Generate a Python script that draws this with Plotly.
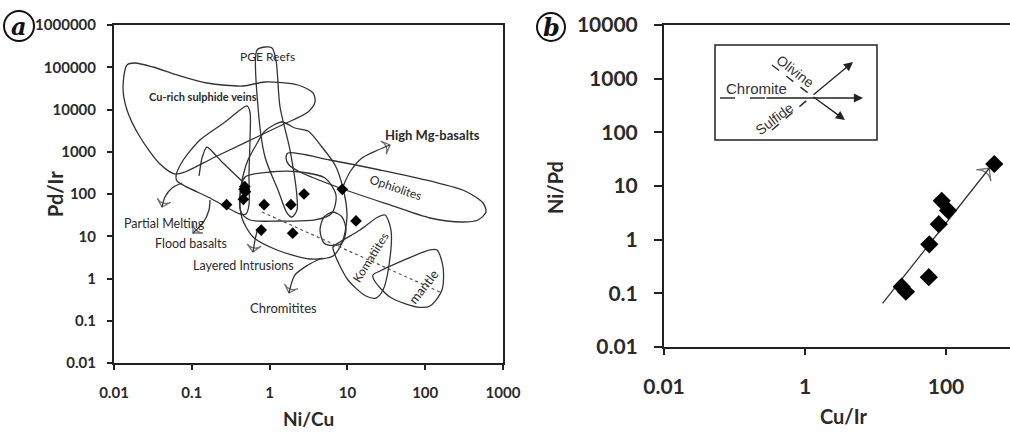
import numpy as np
import plotly.graph_objects as go

W, H = 1010, 432

# ---------------- Panel a: Ni/Cu vs Pd/Ir ----------------
a_ni_cu = [0.28, 0.48, 0.47, 0.49, 0.46, 0.85, 1.88, 2.77, 0.78, 1.98, 8.6, 12.9]
a_pd_ir = [56, 149, 130, 113, 75, 56, 56, 100, 14, 11.8, 129, 23]

a_x_ticks = [0.01, 0.1, 1, 10, 100, 1000]
a_x_ticklabels = ["0.01", "0.1", "1", "10", "100", "1000"]
a_y_ticks = [0.01, 0.1, 1, 10, 100, 1000, 10000, 100000, 1000000]
a_y_ticklabels = ["0.01", "0.1", "1", "10", "100", "1000", "10000", "100000", "1000000"]

# field outlines as log10(Ni/Cu), log10(Pd/Ir)
cu_veins_lx = [-1.833, -1.730, -1.499, -1.190, -0.805, -0.342, -0.059, 0.365, 0.558, 0.584, 0.494, 0.159, -0.702, -1.087, -1.216, -1.409, -1.666, -1.833, -1.884, -1.833]
cu_veins_ly = [5.053, 5.101, 5.006, 4.817, 4.627, 4.556, 4.651, 4.580, 4.391, 4.178, 3.941, 3.633, 2.876, 2.521, 2.473, 2.710, 3.349, 3.988, 4.533, 5.053]

pge_lx = [-0.162, -0.149, -0.059, 0.108, 0.224, 0.288, 0.352, 0.352, 0.262, 0.134, 0.082, 0.031, -0.059, -0.162]
pge_ly = [5.408, 4.059, 2.876, 2.095, 1.550, 1.456, 1.621, 1.929, 3.041, 4.059, 5.172, 5.456, 5.479, 5.408]

spike_lx = [-0.291, -0.252, -0.252, -0.265, -0.265, -0.303, -0.380, -0.766, -1.190, -1.203, -1.126, -0.895, -0.573, -0.380, -0.291]
spike_ly = [4.083, 3.941, 3.278, 2.450, 1.740, 1.527, 1.527, 1.905, 2.308, 2.426, 2.757, 3.278, 3.704, 3.988, 4.083]

tip_lx = [-0.907, -0.869, -0.805, -0.612, -0.316]
tip_ly = [2.426, 2.852, 3.112, 2.757, 2.237]

flood_lx = [-0.380, -0.316, 0.005, 0.391, 0.712, 0.853, 0.802, 0.584, 0.134, -0.252, -0.368, -0.380]
flood_ly = [1.976, 2.402, 2.521, 2.521, 2.379, 1.976, 1.550, 1.385, 1.361, 1.385, 1.574, 1.976]

highmg_lx = [-0.278, -0.188, -0.059, 0.159, 0.326, 0.494, 0.673, 0.841, 0.943, 0.995, 0.943, 0.815, 0.519, 0.095, -0.213, -0.355, -0.380, -0.329, -0.278]
highmg_ly = [2.805, 3.112, 3.491, 3.704, 3.562, 3.491, 3.112, 2.686, 2.142, 1.503, 0.911, 0.533, 0.462, 0.675, 0.982, 1.432, 1.976, 2.521, 2.805]

ophiolite_lx = [0.237, 0.776, 1.419, 2.062, 2.512, 2.743, 2.781, 2.679, 2.473, 2.062, 1.548, 0.905, 0.391, 0.249, 0.211, 0.237]
ophiolite_ly = [2.970, 2.805, 2.568, 2.308, 2.071, 1.787, 1.574, 1.385, 1.337, 1.432, 1.740, 2.142, 2.521, 2.686, 2.852, 2.970]

chromitite_lx = [0.982, 0.931, 0.815, 0.699, 0.648, 0.699, 0.815, 0.931, 0.982]
chromitite_ly = [1.148, 0.840, 0.781, 0.840, 1.148, 1.456, 1.574, 1.456, 1.148]

komatiite_lx = [1.483, 1.560, 1.535, 1.458, 1.368, 1.239, 1.008, 0.841, 0.815, 0.905, 1.162, 1.393, 1.483]
komatiite_ly = [1.503, 1.148, 0.320, -0.272, -0.462, -0.414, -0.036, 0.556, 0.746, 0.864, 1.148, 1.456, 1.503]

mantle_lx = [2.152, 2.229, 2.216, 2.062, 1.895, 1.548, 1.342, 1.329, 1.419, 2.062, 2.152]
mantle_ly = [0.675, 0.272, -0.272, -0.651, -0.675, -0.438, -0.036, 0.083, 0.178, 0.675, 0.675]

trend_lx = [-0.098, 2.190]
trend_ly = [1.574, -0.320]

# label arrows (log10 values)
arrow_melting_lx = [-1.126, -1.254, -1.345, -1.383]
arrow_melting_ly = [2.260, 2.142, 1.929, 1.692]
arrow_flood_lx = [-0.766, -0.779, -0.856, -0.985]
arrow_flood_ly = [1.858, 1.621, 1.314, 1.077]
arrow_layered_lx = [-0.149, -0.188, -0.213]
arrow_layered_ly = [1.195, 0.911, 0.627]
arrow_chrom_lx = [0.673, 0.494, 0.326, 0.249]
arrow_chrom_ly = [0.485, 0.320, 0.083, -0.343]
arrow_highmg_lx = [0.931, 1.033, 1.188, 1.393, 1.548]
arrow_highmg_ly = [2.118, 2.521, 2.852, 3.041, 3.160]

# ---------------- Panel b: Cu/Ir vs Ni/Pd ----------------
b_cu_ir = [484, 87, 107, 79, 58, 57, 23.5, 27]
b_ni_pd = [25.7, 5.3, 3.5, 1.94, 0.82, 0.2, 0.133, 0.107]
b_trend_cu_ir = [12.6, 411]
b_trend_ni_pd = [0.065, 21.4]

b_x_ticks = [0.01, 1, 100]
b_x_ticklabels = ["0.01", "1", "100"]
b_y_ticks = [0.01, 0.1, 1, 10, 100, 1000, 10000]
b_y_ticklabels = ["0.01", "0.1", "1", "10", "100", "1000", "10000"]

LINE = "#333333"
TXT = "#2a2a2a"


def P(px, py):
    return px / W, 1 - py / H


fig = go.Figure()

closed_fields = [
    (cu_veins_lx, cu_veins_ly), (pge_lx, pge_ly), (spike_lx, spike_ly),
    (flood_lx, flood_ly), (highmg_lx, highmg_ly), (ophiolite_lx, ophiolite_ly),
    (chromitite_lx, chromitite_ly), (komatiite_lx, komatiite_ly), (mantle_lx, mantle_ly),
]
for lx, ly in closed_fields:
    fig.add_trace(go.Scatter(x=10 ** np.array(lx), y=10 ** np.array(ly), mode="lines",
                             line=dict(color=LINE, width=1.3, shape="spline", smoothing=0.8),
                             xaxis="x", yaxis="y", hoverinfo="skip"))

fig.add_trace(go.Scatter(x=10 ** np.array(tip_lx), y=10 ** np.array(tip_ly), mode="lines",
                         line=dict(color=LINE, width=1.3, shape="spline", smoothing=0.5),
                         xaxis="x", yaxis="y", hoverinfo="skip"))
fig.add_trace(go.Scatter(x=10 ** np.array(trend_lx), y=10 ** np.array(trend_ly), mode="lines",
                         line=dict(color="#555555", width=1.2, dash="dot"),
                         xaxis="x", yaxis="y", hoverinfo="skip"))

for lx, ly in [(arrow_melting_lx, arrow_melting_ly), (arrow_flood_lx, arrow_flood_ly),
               (arrow_layered_lx, arrow_layered_ly), (arrow_chrom_lx, arrow_chrom_ly),
               (arrow_highmg_lx, arrow_highmg_ly)]:
    n = len(lx)
    fig.add_trace(go.Scatter(x=10 ** np.array(lx), y=10 ** np.array(ly), mode="lines+markers",
                             line=dict(color=LINE, width=1.3, shape="spline", smoothing=0.8),
                             marker=dict(symbol="arrow-wide-open", size=[0] * (n - 1) + [10],
                                         angleref="previous", color=LINE,
                                         line=dict(color=LINE, width=1.3)),
                             xaxis="x", yaxis="y", hoverinfo="skip"))

fig.add_trace(go.Scatter(x=a_ni_cu, y=a_pd_ir, mode="markers",
                         marker=dict(symbol="diamond", size=9, color="black"),
                         xaxis="x", yaxis="y"))

# panel b
fig.add_trace(go.Scatter(x=b_trend_cu_ir, y=b_trend_ni_pd, mode="lines+markers",
                         line=dict(color=LINE, width=1.3),
                         marker=dict(symbol="arrow-wide-open", size=[0, 13], angleref="previous",
                                     color=LINE, line=dict(color=LINE, width=1.3)),
                         xaxis="x2", yaxis="y2", hoverinfo="skip"))
fig.add_trace(go.Scatter(x=b_cu_ir, y=b_ni_pd, mode="markers",
                         marker=dict(symbol="diamond", size=14, color="black"),
                         xaxis="x2", yaxis="y2"))

axis_common = dict(type="log", showgrid=False, zeroline=False, showline=True, automargin=False,
                   linecolor="#222222", ticks="outside", tickcolor="#222222")

fig.update_layout(
    width=W, height=H, margin=dict(l=0, r=0, t=0, b=0, autoexpand=False),
    paper_bgcolor="white", plot_bgcolor="white", showlegend=False,
    xaxis=dict(axis_common, domain=[114 / W, 503 / W], range=[-2, 3], anchor="y",
               mirror=True, linewidth=2, ticklen=5, tickwidth=1.5,
               tickvals=a_x_ticks, ticktext=a_x_ticklabels, ticklabelstandoff=10,
               tickfont=dict(family="Lato", size=15, color=TXT, weight="bold")),
    yaxis=dict(axis_common, domain=[1 - 363 / H, 1 - 25 / H], range=[-2, 6], anchor="x",
               mirror=True, linewidth=2, ticklen=5, tickwidth=1.5,
               tickvals=a_y_ticks, ticktext=a_y_ticklabels, ticklabelstandoff=8,
               tickfont=dict(family="Lato", size=15, color=TXT, weight="bold")),
    xaxis2=dict(axis_common, domain=[664 / W, 1.0], range=[-2, 2.908], anchor="y2",
                mirror=True, linewidth=2, ticklen=6, tickwidth=1.5,
                tickvals=b_x_ticks, ticktext=b_x_ticklabels, ticklabelstandoff=14,
                tickfont=dict(family="Lato", size=21, color=TXT, weight="bold")),
    yaxis2=dict(axis_common, domain=[1 - 347 / H, 1 - 25 / H], range=[-2, 4], anchor="x2",
                mirror=False, linewidth=2, ticklen=8, tickwidth=1.5,
                tickvals=b_y_ticks, ticktext=b_y_ticklabels, ticklabelstandoff=12,
                tickfont=dict(family="Lato", size=21, color=TXT, weight="bold")),
)

shapes = []
annotations = []


def label(text, px, py, size=12, bold=False, angle=0, family="Lato", color=TXT, italic=False):
    x, y = P(px, py)
    annotations.append(dict(text=text, x=x, y=y, xref="paper", yref="paper", showarrow=False,
                            xanchor="center", yanchor="middle", textangle=angle, borderpad=0,
                            font=dict(family=family, size=size, color=color,
                                      weight="bold" if bold else "normal",
                                      style="italic" if italic else "normal")))


# panel a labels
label("PGE Reefs", 267, 57, 12)
label("Cu-rich sulphide veins", 203, 96, 11, bold=True)
label("High Mg-basalts", 432, 135, 13, bold=True)
label("Ophiolites", 396, 187, 12, angle=19)
label("Partial Melting", 164, 223, 12.5)
label("Flood basalts", 191, 244, 12.5)
label("Layered Intrusions", 243, 265, 12.5)
label("Chromitites", 283, 308, 13)
label("Komatiites", 370, 257, 12, angle=-58)
label("mantle", 423, 287, 13, angle=-52)

# axis titles
label("Pd/Ir", 55, 194, 20, bold=True, angle=-90)
label("Ni/Cu", 308, 418, 19, bold=True)
label("Ni/Pd", 555, 188, 20, bold=True, angle=-90)
label("Cu/Ir", 843, 416, 20, bold=True)

# panel letters
for cx, cy, r, letter in [(19, 26, 15, "a"), (551, 27, 14, "b")]:
    x0, y1 = P(cx - r, cy - r)
    x1, y0 = P(cx + r, cy + r)
    shapes.append(dict(type="circle", xref="paper", yref="paper", x0=x0, x1=x1, y0=y0, y1=y1,
                       line=dict(color="#111111", width=2)))
    label(letter, cx, cy, 24, bold=True, italic=True, family="DejaVu Serif", color="#111111")

# inset legend box in panel b
bx0, by1 = P(715, 45)
bx1, by0 = P(877, 140)
shapes.append(dict(type="rect", xref="paper", yref="paper", x0=bx0, x1=bx1, y0=by0, y1=by1,
                   line=dict(color="#222222", width=1.5)))


def seg(p0, p1, dash="longdash", width=1.5):
    x0, y0 = P(*p0)
    x1, y1 = P(*p1)
    shapes.append(dict(type="line", xref="paper", yref="paper", x0=x0, y0=y0, x1=x1, y1=y1,
                       line=dict(color="#333333", width=width, dash=dash)))


def arrow(tail, head):
    hx, hy = P(*head)
    annotations.append(dict(text="", x=hx, y=hy, xref="paper", yref="paper", showarrow=True,
                            ax=tail[0] - head[0], ay=tail[1] - head[1], arrowhead=2,
                            arrowsize=1.4, arrowwidth=1.3, arrowcolor="#222222"))


seg((720, 98), (765, 98))
arrow((765, 98), (863, 98))
seg((772, 65), (812, 96), dash="dash")
arrow((812, 96), (845, 120))
seg((772, 130), (812, 96), dash="dash")
arrow((812, 96), (853, 62))
label("Chromite", 756, 89, 15, family="Liberation Sans", color="#333333")
label("Olivine", 795, 71, 14, angle=38, family="Liberation Sans", color="#333333")
label("Sulfide", 774, 119, 14, angle=-37, family="Liberation Sans", color="#333333")

fig.update_layout(shapes=shapes, annotations=annotations)
fig.write_html("out.html")
